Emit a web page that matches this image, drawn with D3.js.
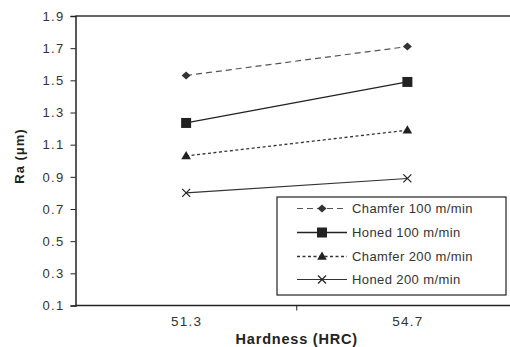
<!DOCTYPE html>
<html><head><meta charset="utf-8">
<script src="https://cdn.jsdelivr.net/npm/d3@7"></script>
<style>body{margin:0;background:#fff}svg{display:block}</style>
</head><body>
<svg id="c" width="510" height="347"></svg>
<script>
const categories = ["51.3", "54.7"];
const seriesNames = ["Chamfer 100 m/min", "Honed 100 m/min", "Chamfer 200 m/min", "Honed 200 m/min"];
const chamfer100 = [1.53, 1.71];
const honed100 = [1.235, 1.49];
const chamfer200 = [1.03, 1.19];
const honed200 = [0.80, 0.89];
const yTicks = [0.1, 0.3, 0.5, 0.7, 0.9, 1.1, 1.3, 1.5, 1.7, 1.9];

const svg = d3.select("#c");
const L = 75.5, R = 518, T = 16, B = 305.5;
const x = d3.scalePoint().domain(categories).range([L, R]).padding(0.5);
const y = d3.scaleLinear().domain([0.1, 1.9]).range([B, T]);
const font = "Arial, 'Liberation Sans', sans-serif";

// top frame
svg.append("line").attr("x1", L).attr("x2", 510).attr("y1", T).attr("y2", T)
  .attr("stroke", "#666").attr("stroke-width", 2);

// y axis
const ya = svg.append("g").attr("transform", `translate(${L},0)`)
  .call(d3.axisLeft(y).tickValues(yTicks).tickFormat(d3.format(".1f")).tickSize(5).tickPadding(6));
ya.select(".domain").attr("stroke", "#222").attr("stroke-width", 1.5);
ya.selectAll(".tick line").attr("stroke", "#222");
ya.selectAll("text").attr("font-family", font).attr("font-size", 13).attr("letter-spacing", 1.3).attr("fill", "#333");

// x axis
const xa = svg.append("g").attr("transform", `translate(0,${B})`)
  .call(d3.axisBottom(x).tickSize(0).tickPadding(11));
xa.select(".domain").remove();
svg.append("line").attr("x1", L).attr("x2", 510).attr("y1", B).attr("y2", B)
  .attr("stroke", "#222").attr("stroke-width", 1.5);
svg.append("line").attr("x1", (L + R) / 2).attr("x2", (L + R) / 2).attr("y1", B).attr("y2", B + 5)
  .attr("stroke", "#222");
xa.selectAll("text").attr("font-family", font).attr("font-size", 13.5).attr("letter-spacing", 1.2).attr("fill", "#333");

// axis titles
svg.append("text").attr("x", (L + R) / 2).attr("y", 344).attr("text-anchor", "middle")
  .attr("font-family", font).attr("font-size", 14.5).attr("letter-spacing", 0.8).attr("font-weight", "bold").attr("fill", "#222")
  .text("Hardness (HRC)");
svg.append("text").attr("transform", `translate(24,156) rotate(-90)`).attr("text-anchor", "middle")
  .attr("font-family", font).attr("font-size", 13).attr("letter-spacing", 1).attr("font-weight", "bold").attr("fill", "#222")
  .text("Ra (μm)");

const series = [
  {name: seriesNames[0], values: chamfer100, dash: "6,4", color: "#555", width: 1.2, marker: "diamond"},
  {name: seriesNames[1], values: honed100, dash: null, color: "#222", width: 1.3, marker: "square"},
  {name: seriesNames[2], values: chamfer200, dash: "3,2.5", color: "#333", width: 1.3, marker: "triangle"},
  {name: seriesNames[3], values: honed200, dash: null, color: "#333", width: 1.1, marker: "cross"}
];

function drawMarker(g, type, cx, cy, color) {
  if (type === "diamond") {
    g.append("path").attr("d", `M${cx},${cy - 4}L${cx + 4.5},${cy}L${cx},${cy + 4}L${cx - 4.5},${cy}Z`).attr("fill", "#333");
  } else if (type === "square") {
    g.append("rect").attr("x", cx - 5).attr("y", cy - 5).attr("width", 10).attr("height", 10).attr("fill", "#222");
  } else if (type === "triangle") {
    g.append("path").attr("d", d3.symbol(d3.symbolTriangle, 40)()).attr("transform", `translate(${cx},${cy + 0.5})`).attr("fill", "#222");
  } else {
    g.append("path").attr("d", `M${cx - 4},${cy - 4}L${cx + 4},${cy + 4}M${cx - 4},${cy + 4}L${cx + 4},${cy - 4}`)
      .attr("stroke", "#222").attr("stroke-width", 1.2).attr("fill", "none");
  }
}

const line = d3.line().x((d, i) => x(categories[i])).y(d => y(d));
series.forEach(s => {
  svg.append("path").datum(s.values).attr("d", line).attr("fill", "none")
    .attr("stroke", s.color).attr("stroke-width", s.width).attr("stroke-dasharray", s.dash);
  const g = svg.append("g");
  s.values.forEach((v, i) => drawMarker(g, s.marker, x(categories[i]), y(v), s.color));
});

// legend
const lg = svg.append("g");
lg.append("rect").attr("x", 277).attr("y", 197).attr("width", 229).attr("height", 98)
  .attr("fill", "#fff").attr("stroke", "#222").attr("stroke-width", 1.2);
const ly = [208.5, 232.5, 256.5, 279.5];
series.forEach((s, i) => {
  lg.append("line").attr("x1", 297).attr("x2", 347).attr("y1", ly[i]).attr("y2", ly[i])
    .attr("stroke", s.color).attr("stroke-width", s.width).attr("stroke-dasharray", s.dash);
  drawMarker(lg, s.marker, 322, ly[i], s.color);
  lg.append("text").attr("x", 352).attr("y", ly[i] + 4.5).attr("font-family", font).attr("font-size", 13)
    .attr("letter-spacing", 0.4).attr("fill", "#333").text(s.name);
});
</script>
</body></html>
